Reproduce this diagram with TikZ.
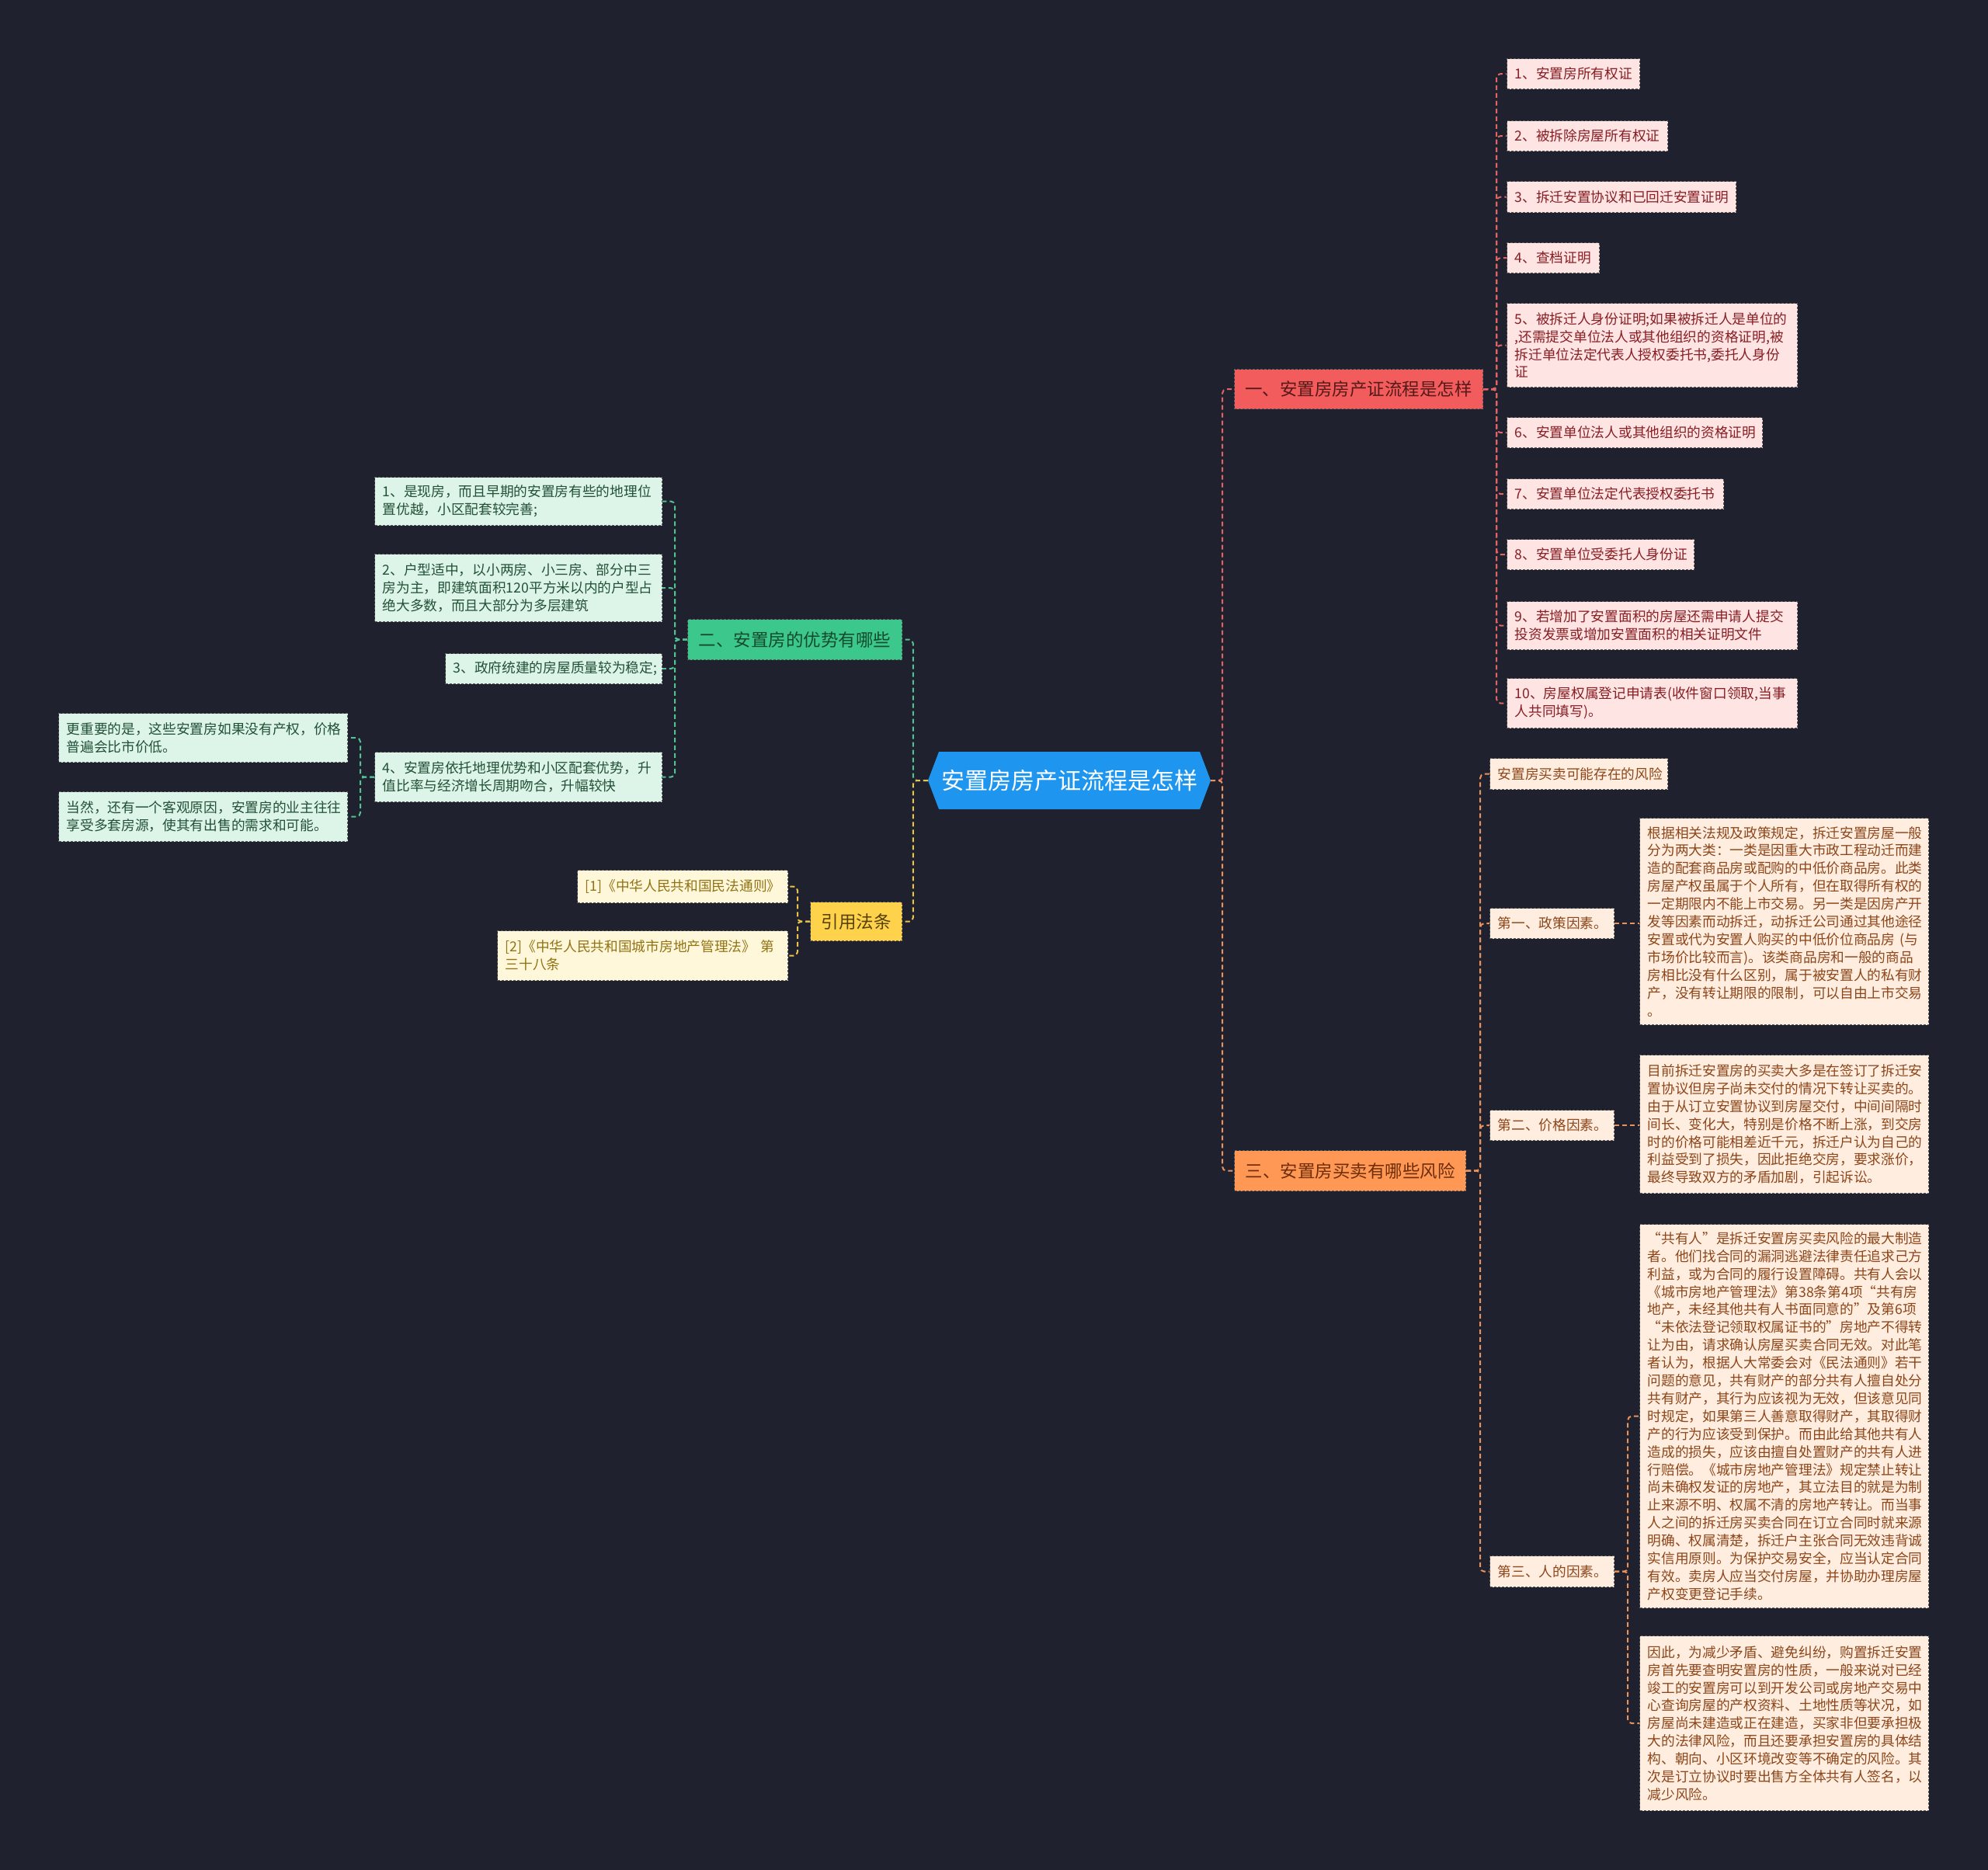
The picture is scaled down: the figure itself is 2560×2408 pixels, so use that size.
\documentclass[tikz,border=0pt]{standalone}
\usepackage{fontspec}
\setmainfont{Noto Sans CJK SC}
\definecolor{bgc}{RGB}{31,34,46}
\definecolor{rootc}{RGB}{30,150,240}
\definecolor{bonef}{RGB}{242,92,92}
\definecolor{bonet}{RGB}{85,25,25}
\definecolor{bthreef}{RGB}{255,152,85}
\definecolor{bthreet}{RGB}{110,45,10}
\definecolor{btwof}{RGB}{60,200,140}
\definecolor{btwot}{RGB}{20,75,45}
\definecolor{bfourf}{RGB}{255,210,75}
\definecolor{bfourt}{RGB}{85,65,10}
\definecolor{pinkf}{RGB}{255,228,228}
\definecolor{pinkt}{RGB}{135,30,35}
\definecolor{greenf}{RGB}{220,245,232}
\definecolor{greent}{RGB}{35,80,55}
\definecolor{yelf}{RGB}{255,247,218}
\definecolor{yelt}{RGB}{145,115,20}
\definecolor{oraf}{RGB}{255,237,224}
\definecolor{orat}{RGB}{140,70,25}
\definecolor{edgec}{RGB}{90,90,90}
\definecolor{lnR}{RGB}{225,100,100}
\definecolor{lnO}{RGB}{235,145,90}
\definecolor{lnG}{RGB}{80,195,145}
\definecolor{lnY}{RGB}{235,195,70}
\newcommand\myfs{\fontsize{17.7}{22.9}\selectfont}
\newcommand\mybfs{\fontsize{22.5}{26}\selectfont}
\begin{document}
\begin{tikzpicture}[x=1pt,y=-1pt,
  leaf/.style={rectangle, anchor=north west, draw=edgec, dash pattern=on 3pt off 2pt, line width=1.2pt, inner xsep=10pt, inner ysep=2pt, align=left, font=\myfs},
  pinkbox/.style={leaf, fill=pinkf, text=pinkt},
  greenbox/.style={leaf, fill=greenf, text=greent},
  yelbox/.style={leaf, fill=yelf, text=yelt},
  orabox/.style={leaf, fill=oraf, text=orat},
  branch/.style={rectangle, anchor=north west, draw=edgec, dash pattern=on 3pt off 2pt, line width=1.2pt, inner sep=2pt, align=center, font=\mybfs},
  con/.style={dash pattern=on 6pt off 4pt, line width=2pt, rounded corners=5pt},
]
\useasboundingbox (0,0) rectangle (2560,2408);
\fill[bgc] (0,0) rectangle (2560,2408);

% root
\fill[rootc] (1209,968) -- (1545,968) -- (1559,1005) -- (1545,1042) -- (1209,1042) -- (1195,1005) -- cycle;
\node[minimum width=364pt, minimum height=74pt, inner sep=0pt, text=white, font=\fontsize{30}{34}\selectfont] (root) at (1377,1005) {安置房房产证流程是怎样};

% branches
\node[branch, fill=bonef, text=bonet, minimum width=320pt, minimum height=51pt] (b1) at (1589,475) {一、安置房房产证流程是怎样};
\node[branch, fill=bthreef, text=bthreet, minimum width=298pt, minimum height=52pt] (b3) at (1589,1481) {三、安置房买卖有哪些风险};
\node[branch, fill=btwof, text=btwot, minimum width=276pt, minimum height=52pt] (b2) at (885,797) {二、安置房的优势有哪些};
\node[branch, fill=bfourf, text=bfourt, minimum width=118pt, minimum height=50pt] (b4) at (1043,1161) {引用法条};

% pink items
\node[pinkbox, text width=151pt, minimum height=39pt] (i1) at (1940,75) {1、安置房所有权证};
\node[pinkbox, text width=187pt, minimum height=39pt] (i2) at (1940,155) {2、被拆除房屋所有权证};
\node[pinkbox, text width=275pt, minimum height=40pt] (i3) at (1940,233) {3、拆迁安置协议和已回迁安置证明};
\node[pinkbox, text width=99pt, minimum height=39pt] (i4) at (1940,312) {4、查档证明};
\node[pinkbox, text width=354pt, minimum height=108pt] (i5) at (1940,390) {5、被拆迁人身份证明;如果被拆迁人是单位的\\,还需提交单位法人或其他组织的资格证明,被\\拆迁单位法定代表人授权委托书,委托人身份\\证};
\node[pinkbox, text width=309pt, minimum height=39pt] (i6) at (1940,537) {6、安置单位法人或其他组织的资格证明};
\node[pinkbox, text width=259pt, minimum height=39pt] (i7) at (1940,616) {7、安置单位法定代表授权委托书};
\node[pinkbox, text width=221pt, minimum height=39pt] (i8) at (1940,694) {8、安置单位受委托人身份证};
\node[pinkbox, text width=354pt, minimum height=62pt] (i9) at (1940,774) {9、若增加了安置面积的房屋还需申请人提交\\投资发票或增加安置面积的相关证明文件};
\node[pinkbox, text width=354pt, minimum height=64pt] (i10) at (1940,873) {10、房屋权属登记申请表(收件窗口领取,当事\\人共同填写)。};

% green items
\node[greenbox, text width=350pt, minimum height=62pt] (g1) at (482,614) {1、是现房，而且早期的安置房有些的地理位\\置优越，小区配套较完善;};
\node[greenbox, text width=350pt, minimum height=87pt] (g2) at (482,713) {2、户型适中，以小两房、小三房、部分中三\\房为主，即建筑面积120平方米以内的户型占\\绝大多数，而且大部分为多层建筑};
\node[greenbox, text width=259pt, minimum height=39pt] (g3) at (573,841) {3、政府统建的房屋质量较为稳定;};
\node[greenbox, text width=350pt, minimum height=64pt] (g4) at (482,968) {4、安置房依托地理优势和小区配套优势，升\\值比率与经济增长周期吻合，升幅较快};
\node[greenbox, text width=352pt, minimum height=63pt] (l1) at (75,918) {更重要的是，这些安置房如果没有产权，价格\\普遍会比市价低。};
\node[greenbox, text width=352pt, minimum height=64pt] (l2) at (75,1019) {当然，还有一个客观原因，安置房的业主往往\\享受多套房源，使其有出售的需求和可能。};

% refs
\node[yelbox, text width=251pt, minimum height=42pt] (r1) at (743,1120) {[1]《中华人民共和国民法通则》};
\node[yelbox, text width=354pt, minimum height=64pt] (r2) at (640,1198) {[2]《中华人民共和国城市房地产管理法》 第\\三十八条};

% orange
\node[orabox, text width=209pt, minimum height=40pt] (o0) at (1918,976) {安置房买卖可能存在的风险};
\node[orabox, text width=140pt, minimum height=39pt] (o1) at (1918,1169) {第一、政策因素。};
\node[orabox, text width=140pt, minimum height=39pt] (o2) at (1918,1429) {第二、价格因素。};
\node[orabox, text width=140pt, minimum height=40pt] (o3) at (1918,2003) {第三、人的因素。};
\node[orabox, text width=352pt, minimum height=266pt] (o1d) at (2111,1053) {根据相关法规及政策规定，拆迁安置房屋一般\\分为两大类：一类是因重大市政工程动迁而建\\造的配套商品房或配购的中低价商品房。此类\\房屋产权虽属于个人所有，但在取得所有权的\\一定期限内不能上市交易。另一类是因房产开\\发等因素而动拆迁，动拆迁公司通过其他途径\\安置或代为安置人购买的中低价位商品房 (与\\市场价比较而言)。该类商品房和一般的商品\\房相比没有什么区别，属于被安置人的私有财\\产，没有转让期限的限制，可以自由上市交易\\。};
\node[orabox, text width=352pt, minimum height=178pt] (o2d) at (2111,1358) {目前拆迁安置房的买卖大多是在签订了拆迁安\\置协议但房子尚未交付的情况下转让买卖的。\\由于从订立安置协议到房屋交付，中间间隔时\\间长、变化大，特别是价格不断上涨，到交房\\时的价格可能相差近千元，拆迁户认为自己的\\利益受到了损失，因此拒绝交房，要求涨价，\\最终导致双方的矛盾加剧，引起诉讼。};
\node[orabox, text width=352pt, minimum height=494pt] (o3a) at (2111,1576) {“共有人”是拆迁安置房买卖风险的最大制造\\者。他们找合同的漏洞逃避法律责任追求己方\\利益，或为合同的履行设置障碍。共有人会以\\《城市房地产管理法》第38条第4项“共有房\\地产，未经其他共有人书面同意的”及第6项\\“未依法登记领取权属证书的”房地产不得转\\让为由，请求确认房屋买卖合同无效。对此笔\\者认为，根据人大常委会对《民法通则》若干\\问题的意见，共有财产的部分共有人擅自处分\\共有财产，其行为应该视为无效，但该意见同\\时规定，如果第三人善意取得财产，其取得财\\产的行为应该受到保护。而由此给其他共有人\\造成的损失，应该由擅自处置财产的共有人进\\行赔偿。《城市房地产管理法》规定禁止转让\\尚未确权发证的房地产，其立法目的就是为制\\止来源不明、权属不清的房地产转让。而当事\\人之间的拆迁房买卖合同在订立合同时就来源\\明确、权属清楚，拆迁户主张合同无效违背诚\\实信用原则。为保护交易安全，应当认定合同\\有效。卖房人应当交付房屋，并协助办理房屋\\产权变更登记手续。};
\node[orabox, text width=352pt, minimum height=225pt] (o3b) at (2111,2106) {因此，为减少矛盾、避免纠纷，购置拆迁安置\\房首先要查明安置房的性质，一般来说对已经\\竣工的安置房可以到开发公司或房地产交易中\\心查询房屋的产权资料、土地性质等状况，如\\房屋尚未建造或正在建造，买家非但要承担极\\大的法律风险，而且还要承担安置房的具体结\\构、朝向、小区环境改变等不确定的风险。其\\次是订立协议时要出售方全体共有人签名，以\\减少风险。};

% connectors
\draw[con, lnR] (root.east) -- ++(15,0) |- (b1.west);
\draw[con, lnO] (root.east) -- ++(15,0) |- (b3.west);
\draw[con, lnG] (root.west) -- ++(-19,0) |- (b2.east);
\draw[con, lnY] (root.west) -- ++(-19,0) |- (b4.east);
\foreach \n in {i1,i2,i3,i4,i5,i6,i7,i8,i9,i10}
  \draw[con, lnR] (b1.east) -- ++(17,0) |- (\n.west);
\foreach \n in {o0,o1,o2,o3}
  \draw[con, lnO] (b3.east) -- ++(18,0) |- (\n.west);
\draw[con, lnO] (o1.east) -- (o1.east -| o1d.west);
\draw[con, lnO] (o2.east) -- (o2.east -| o2d.west);
\foreach \n in {o3a,o3b}
  \draw[con, lnO] (o3.east) -- ++(17,0) |- (\n.west);
\foreach \n in {g1,g2,g3,g4}
  \draw[con, lnG] (b2.west) -- ++(-16,0) |- (\n.east);
\foreach \n in {l1,l2}
  \draw[con, lnG] (g4.west) -- ++(-18,0) |- (\n.east);
\foreach \n in {r1,r2}
  \draw[con, lnY] (b4.west) -- ++(-16,0) |- (\n.east);
\end{tikzpicture}
\end{document}
